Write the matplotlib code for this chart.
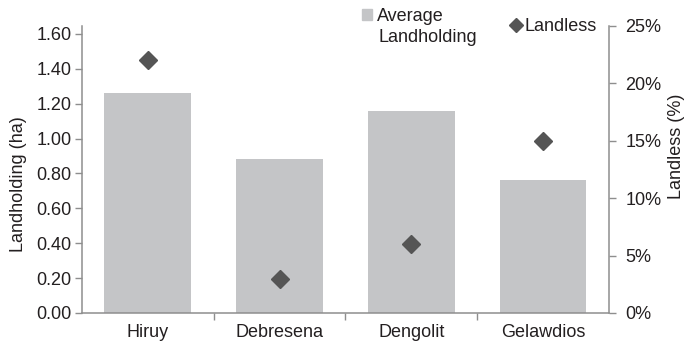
import matplotlib.pyplot as plt
from matplotlib.lines import Line2D
from matplotlib.patches import Patch
from matplotlib.ticker import FuncFormatter, FixedLocator

sites = ['Hiruy', 'Debresena', 'Dengolit', 'Gelawdios']
landholding = [1.26, 0.88, 1.16, 0.76]   # ha
landless = [22, 3, 6, 15]                # %

plt.rcParams['font.family'] = ['Liberation Sans', 'DejaVu Sans']
plt.rcParams['font.size'] = 13
txt = '#231f20'
axis_col = '#8e8e8e'
bar_col = '#c4c5c7'
dot_col = '#555555'

fig = plt.figure(figsize=(6.88, 3.46), dpi=100)
ax = fig.add_axes([0.119, 0.0954, 0.766, 0.8295])
ax2 = ax.twinx()

x = list(range(len(sites)))
bars = ax.bar(x, landholding, width=0.66, color=bar_col, zorder=1)
ax2.plot(x, landless, linestyle='none', marker='D', markersize=9,
         color=dot_col, zorder=3)

ax.set_xlim(-0.5, len(sites) - 0.5)
ax.set_ylim(0, 1.645)
ax.set_yticks([0.2 * i for i in range(9)])
ax.yaxis.set_major_formatter(FuncFormatter(lambda v, p: '%.2f' % v))
ax2.set_ylim(0, 25)
ax2.set_yticks(range(0, 26, 5))
ax2.yaxis.set_major_formatter(FuncFormatter(lambda v, p: '%d%%' % v))

ax.set_xticks(x)
ax.set_xticklabels(sites)
ax.xaxis.set_minor_locator(FixedLocator([i + 0.5 for i in range(len(sites) - 1)]))
ax.tick_params(axis='x', which='major', length=0, pad=8, colors=txt)
ax.tick_params(axis='x', which='minor', length=5, width=1, color=axis_col)
ax.tick_params(axis='y', length=5, width=1, color=axis_col, labelcolor=txt, pad=2.5)
ax2.tick_params(axis='y', length=5, width=1, color=axis_col, labelcolor=txt, pad=7)

for a in (ax, ax2):
    a.spines['top'].set_visible(False)
    for s in ('left', 'right', 'bottom'):
        a.spines[s].set_color(axis_col)
        a.spines[s].set_linewidth(1.1)
ax.spines['right'].set_visible(False)
ax2.spines['left'].set_visible(False)
ax2.spines['bottom'].set_visible(False)

ax.set_ylabel('Landholding (ha)', color=txt)
ax.yaxis.set_label_coords(-0.104, 0.449)
ax2.set_ylabel('Landless (%)', color=txt)
ax2.yaxis.set_label_coords(1.112, 0.582)

# legend: two-line bar entry with the key beside the first line, diamond beside the middle
leg1 = ax.legend([Patch(color=bar_col)], ['Average'], loc='upper left',
                 bbox_to_anchor=(362 / 688, 1 - 8 / 346),
                 bbox_transform=fig.transFigure, frameon=False,
                 borderpad=0, borderaxespad=0, handlelength=0.55,
                 handleheight=0.5, handletextpad=0.3)
for t in leg1.get_texts():
    t.set_color(txt)
fig.text(378 / 688, 1 - 42 / 346, 'Landholding', color=txt, va='baseline')

leg2 = ax2.legend([Line2D([], [], linestyle='none', marker='D', markersize=7,
                          color=dot_col)], ['Landless'], loc='upper right',
                  bbox_to_anchor=(597 / 688, 1 - 18 / 346),
                  bbox_transform=fig.transFigure, frameon=False,
                  borderpad=0, borderaxespad=0, handlelength=0.6,
                  handletextpad=0.2)
for t in leg2.get_texts():
    t.set_color(txt)

fig.savefig('out.png', dpi=100)
